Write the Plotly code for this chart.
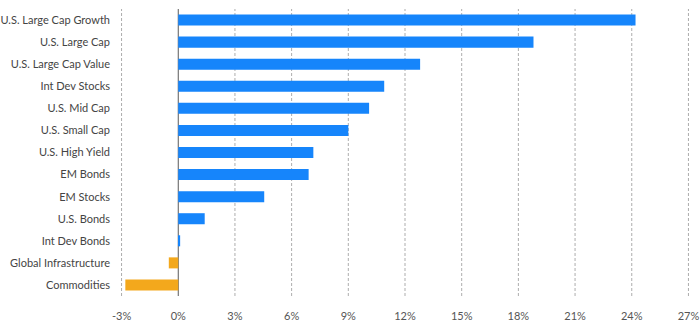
import plotly.graph_objects as go

# Asset class returns (%), listed top to bottom
categories = [
    "U.S. Large Cap Growth", "U.S. Large Cap", "U.S. Large Cap Value",
    "Int Dev Stocks", "U.S. Mid Cap", "U.S. Small Cap", "U.S. High Yield",
    "EM Bonds", "EM Stocks", "U.S. Bonds", "Int Dev Bonds",
    "Global Infrastructure", "Commodities",
]
returns = [24.2, 18.8, 12.8, 10.9, 10.1, 9.0, 7.15, 6.9, 4.55, 1.4, 0.1, -0.5, -2.8]

tick_vals = [-3, 0, 3, 6, 9, 12, 15, 18, 21, 24, 27]
tick_text = [f"{v}%" for v in tick_vals]

BLUE = "#1685fb"
ORANGE = "#f3a81c"
colors = [BLUE if v >= 0 else ORANGE for v in returns]

fig = go.Figure(
    go.Bar(
        x=returns,
        y=categories,
        orientation="h",
        marker=dict(color=colors, line=dict(width=0)),
        hoverinfo="skip",
    )
)

# Dashed vertical grid lines at every tick (solid at zero), drawn under the bars
for v in tick_vals:
    fig.add_shape(
        type="line",
        xref="x", yref="paper",
        x0=v, x1=v, y0=0, y1=1,
        layer="below",
        line=dict(
            color="#5a5a5a" if v == 0 else "#adadad",
            width=1,
            dash="solid" if v == 0 else "3px,2px",
        ),
    )

font_family = "Lato, 'Open Sans', sans-serif"

fig.update_layout(
    width=700,
    height=330,
    margin=dict(l=114, r=4, t=9, b=34),
    paper_bgcolor="white",
    plot_bgcolor="white",
    bargap=0.5,
    showlegend=False,
    font=dict(family=font_family, size=11, color="#444444"),
    xaxis=dict(
        range=[-3.4, 27.4],
        tickvals=tick_vals,
        ticktext=tick_text,
        showgrid=False,
        zeroline=False,
        showline=False,
        ticks="",
        ticklabelstandoff=12,
        ticklabeloverflow="allow",
        tickfont=dict(size=11, color="#555555"),
        automargin=False,
        fixedrange=True,
    ),
    yaxis=dict(
        categoryorder="array",
        categoryarray=categories[::-1],
        range=[-0.5, len(categories) - 0.5],
        showgrid=False,
        zeroline=False,
        showline=False,
        ticks="",
        ticklabelstandoff=3,
        tickfont=dict(size=11, color="#444444"),
        automargin=False,
        fixedrange=True,
    ),
)

fig.write_html("out.html")
